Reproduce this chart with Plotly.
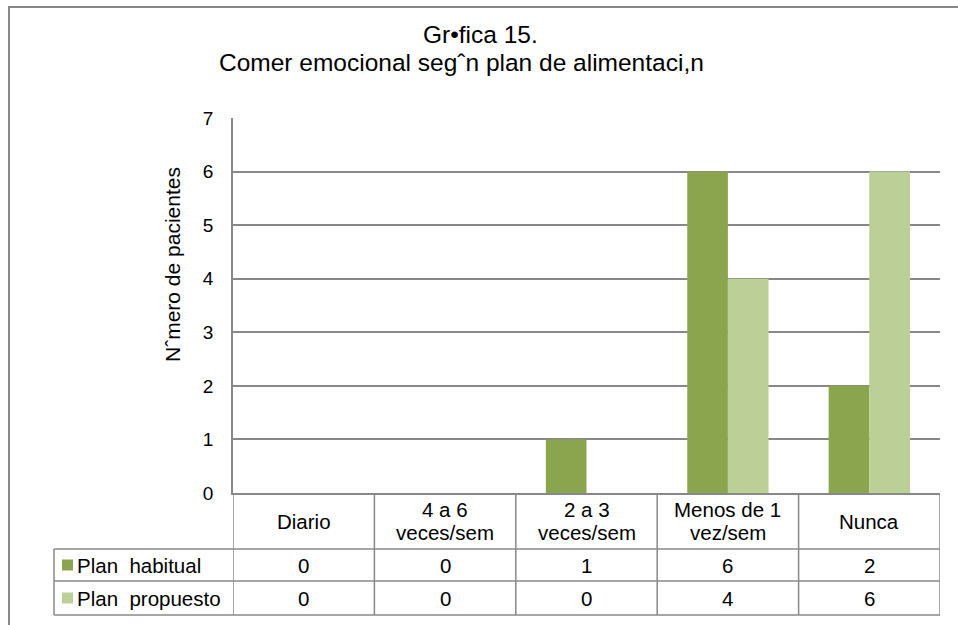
import plotly.graph_objects as go

# ---- data ----
categories = ["Diario", "4 a 6 veces/sem", "2 a 3 veces/sem", "Menos de 1 vez/sem", "Nunca"]
header_labels = [["Diario"], ["4 a 6", "veces/sem"], ["2 a 3", "veces/sem"], ["Menos de 1", "vez/sem"], ["Nunca"]]
series_names = ["Plan\u00a0 habitual", "Plan\u00a0 propuesto"]
plan_habitual = [0, 0, 1, 6, 2]
plan_propuesto = [0, 0, 0, 4, 6]
series_values = [plan_habitual, plan_propuesto]
colors = ["#8BA54F", "#BBCF96"]
y_ticks = [0, 1, 2, 3, 4, 5, 6, 7]
title_line1 = "Gr•fica 15."
title_line2 = "Comer emocional segˆn plan de alimentaci,n"
y_title = "Nˆmero de pacientes"

# ---- layout geometry (pixels) ----
W, H = 958, 625
L, R, T, B = 233, 940, 118, 493
FONT = "Arial, Liberation Sans, sans-serif"
GRID = "#888888"
TXT = 20.5

def px_x(p):
    return (p - L) / (R - L)

def px_y(p):
    return (B - p) / (B - T)

fig = go.Figure()
for name, vals, col in zip(series_names, series_values, colors):
    fig.add_trace(go.Bar(x=categories, y=vals, name=name, marker=dict(color=col, line=dict(width=0)),
                         showlegend=False))

shapes = []
annotations = []

row_tops = [493, 549, 581, 615]
tbl_left = 54
n = len(categories)
for yy in row_tops[1:]:
    shapes.append(dict(type="line", xref="paper", yref="paper", x0=px_x(tbl_left), x1=1,
                       y0=px_y(yy), y1=px_y(yy), line=dict(color=GRID, width=1.5)))
shapes.append(dict(type="line", xref="paper", yref="paper", x0=px_x(tbl_left), x1=px_x(tbl_left),
                   y0=px_y(row_tops[1]), y1=px_y(row_tops[3]), line=dict(color=GRID, width=1.5)))
for i in range(n + 1):
    shapes.append(dict(type="line", xref="x", yref="paper", x0=i - 0.5, x1=i - 0.5,
                       y0=0, y1=px_y(row_tops[3]), line=dict(color=GRID, width=1.5)))

for i, lines in enumerate(header_labels):
    ys = [521] if len(lines) == 1 else [509.5, 532.5]
    for lab, yy in zip(lines, ys):
        annotations.append(dict(x=categories[i], xref="x", y=px_y(yy), yref="paper", text=lab,
                                showarrow=False, font=dict(size=TXT, color="black", family=FONT),
                                xanchor="center", yanchor="middle"))

row_centers = [565, 598]
for r, (name, vals, col) in enumerate(zip(series_names, series_values, colors)):
    yc = row_centers[r]
    shapes.append(dict(type="rect", xref="paper", yref="paper", x0=px_x(62), x1=px_x(73),
                       y0=px_y(yc + 5.5), y1=px_y(yc - 5.5), fillcolor=col, line=dict(width=0)))
    annotations.append(dict(x=px_x(75), xref="paper", y=px_y(yc), yref="paper", text=name,
                            showarrow=False, font=dict(size=TXT, color="black", family=FONT),
                            xanchor="left", yanchor="middle"))
    for i, v in enumerate(vals):
        annotations.append(dict(x=categories[i], xref="x", y=px_y(yc), yref="paper", text=str(v),
                                showarrow=False, font=dict(size=TXT, color="black", family=FONT),
                                xanchor="center", yanchor="middle"))

annotations.append(dict(x=px_x(480), xref="paper", y=px_y(35), yref="paper", text=title_line1,
                        showarrow=False, font=dict(size=24.5, color="black", family=FONT),
                        xanchor="center", yanchor="middle"))
annotations.append(dict(x=px_x(461), xref="paper", y=px_y(62), yref="paper", text=title_line2,
                        showarrow=False, font=dict(size=24.5, color="black", family=FONT),
                        xanchor="center", yanchor="middle"))
annotations.append(dict(x=px_x(172), xref="paper", y=px_y(265), yref="paper", text=y_title,
                        textangle=-90, showarrow=False, font=dict(size=21, color="black", family=FONT),
                        xanchor="center", yanchor="middle"))

# outer chart border
shapes.append(dict(type="line", xref="paper", yref="paper", x0=px_x(9), x1=px_x(9),
                   y0=px_y(6), y1=px_y(640), line=dict(color=GRID, width=2)))
shapes.append(dict(type="line", xref="paper", yref="paper", x0=px_x(8), x1=px_x(970),
                   y0=px_y(7), y1=px_y(7), line=dict(color=GRID, width=2)))

fig.update_layout(
    width=W, height=H,
    margin=dict(l=L, r=W - R, t=T, b=H - B),
    paper_bgcolor="white", plot_bgcolor="white",
    barmode="group", bargap=0.425, bargroupgap=0,
    font=dict(family=FONT, color="black"),
    shapes=shapes, annotations=annotations,
    xaxis=dict(type="category", range=[-0.5, n - 0.5], showticklabels=False, showgrid=False,
               showline=True, linecolor=GRID, linewidth=2, ticks="", zeroline=False, fixedrange=True),
    yaxis=dict(range=[0, 7], tickvals=y_ticks, showgrid=True, gridcolor=GRID, gridwidth=1.5,
               showline=True, linecolor=GRID, linewidth=1.5, zeroline=False, ticks="",
               ticklabelstandoff=14, tickfont=dict(size=19, color="black", family=FONT)),
)

fig.write_html("out.html", config={"displayModeBar": False},
               post_script="document.body.style.margin='0';")
